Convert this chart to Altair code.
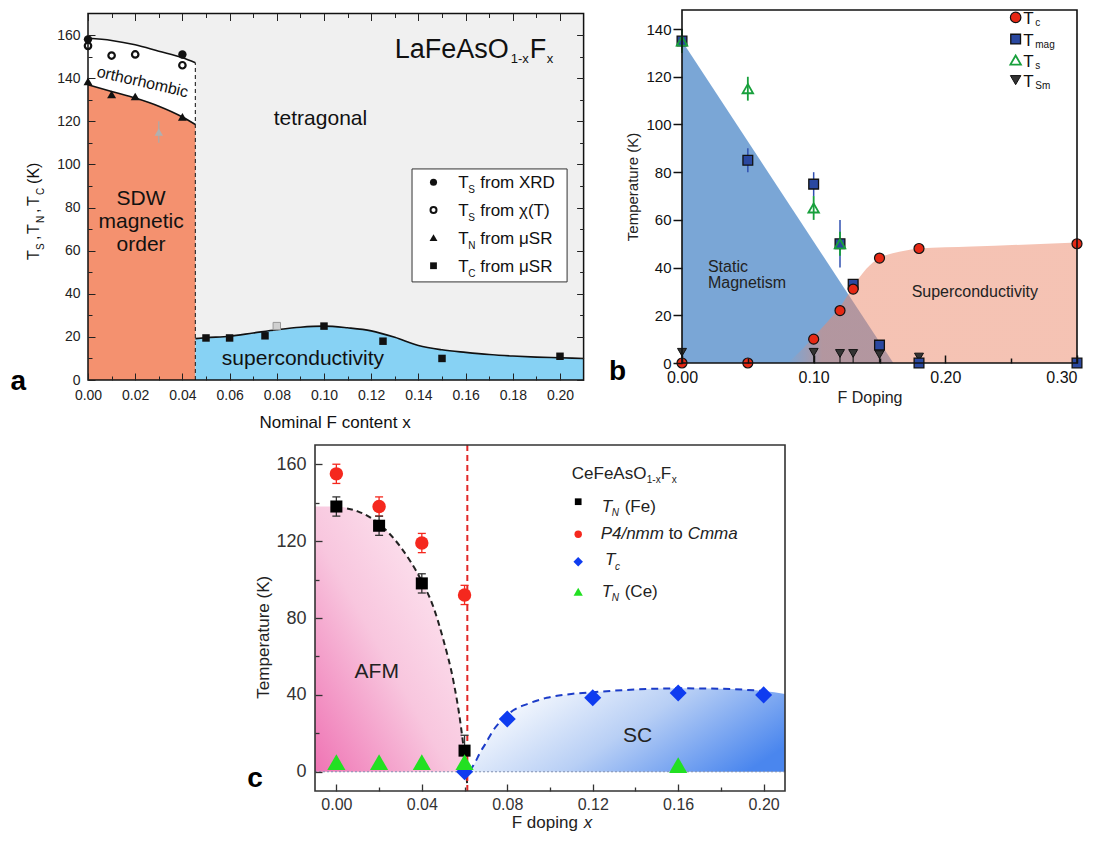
import altair as alt
import pandas as pd

FONT = "Liberation Sans"
W, H = 1082, 827

# ---------------- panel a : LaFeAsO1-xFx ----------------
a_xrd_x = [0.0, 0.04]
a_xrd_y = [158.0, 151.0]
a_chi_x = [0.0, 0.01, 0.02, 0.04]
a_chi_y = [155.0, 150.5, 151.0, 146.0]
a_tn_x = [0.0, 0.01, 0.02, 0.04]
a_tn_y = [138.5, 132.5, 131.5, 122.0]
a_tc_x = [0.05, 0.06, 0.075, 0.10, 0.125, 0.15, 0.20]
a_tc_y = [19.5, 19.5, 20.5, 25.0, 18.0, 10.0, 11.0]
a_gray_tn_x, a_gray_tn_y, a_gray_tn_err = [0.03], [115.0], [5.0]
a_gray_tc_x, a_gray_tc_y = [0.08], [25.0]
a_bound_x = [0.0, 0.01, 0.02, 0.03, 0.04, 0.0455]
a_ts_line = [158.5, 157.5, 155.5, 152.5, 149.5, 147.2]
a_tn_line = [137.0, 133.8, 130.8, 127.0, 122.0, 118.5]
a_sc_x = [0.0455, 0.05, 0.06, 0.07, 0.08, 0.09, 0.10, 0.11, 0.12, 0.13, 0.14,
          0.15, 0.16, 0.17, 0.18, 0.19, 0.20, 0.21]
a_sc_y = [19.2, 19.6, 20.3, 21.8, 23.3, 24.5, 25.0, 24.2, 22.8, 19.8, 16.0,
          14.0, 12.8, 11.8, 11.1, 10.6, 10.3, 10.0]
a_xticks = [0.0, 0.02, 0.04, 0.06, 0.08, 0.10, 0.12, 0.14, 0.16, 0.18, 0.20]
a_xminor = [0.01, 0.03, 0.05, 0.07, 0.09, 0.11, 0.13, 0.15, 0.17, 0.19]
a_yticks = [0, 20, 40, 60, 80, 100, 120, 140, 160]
a_yminor = [10, 30, 50, 70, 90, 110, 130, 150]

# ---------------- panel b ----------------
b_tc_x = [0.0, 0.05, 0.10, 0.12, 0.13, 0.15, 0.18, 0.30]
b_tc_y = [0.0, 0.0, 10.0, 22.0, 31.0, 44.0, 48.0, 50.0]
b_tmag_x = [0.0, 0.05, 0.10, 0.12, 0.13, 0.15, 0.18, 0.30]
b_tmag_y = [135.0, 85.0, 75.0, 50.0, 33.0, 7.5, 0.0, 0.0]
b_tmag_err = [0.0, 5.0, 5.0, 10.0, 0.0, 0.0, 0.0, 0.0]
b_ts_x = [0.0, 0.05, 0.10, 0.12]
b_ts_y = [135.0, 115.0, 65.0, 50.0]
b_ts_err = [5.0, 5.0, 5.0, 5.0]
b_tsm_x = [0.0, 0.10, 0.12, 0.13, 0.15, 0.18]
b_tsm_y = [4.5, 4.5, 4.0, 4.0, 3.5, 2.5]
b_mag_x = [0.0, 0.1605]
b_mag_y = [135.0, 0.0]
b_sc_x = [0.08, 0.09, 0.10, 0.11, 0.12, 0.13, 0.14, 0.15, 0.16, 0.17, 0.18, 0.22, 0.30]
b_sc_y = [0.0, 5.0, 11.0, 17.0, 23.5, 32.0, 39.5, 44.0, 46.0, 47.2, 48.0, 48.8, 50.5]
b_xticks = [0.0, 0.10, 0.20, 0.30]
b_xminor = [0.05, 0.15, 0.25]
b_yticks = [0, 20, 40, 60, 80, 100, 120, 140]

# ---------------- panel c : CeFeAsO1-xFx ----------------
c_tn_x = [0.0, 0.02, 0.04, 0.06]
c_tn_y = [138.0, 128.0, 98.0, 11.0]
c_tn_err = [5.0, 5.0, 5.0, 8.0]
c_pt_x = [0.0, 0.02, 0.04, 0.06]
c_pt_y = [155.0, 138.0, 119.0, 92.0]
c_pt_err = [5.0, 5.0, 5.0, 5.0]
c_tc_x = [0.06, 0.08, 0.12, 0.16, 0.20]
c_tc_y = [0.0, 27.5, 38.5, 41.0, 40.0]
c_tnce_x = [0.0, 0.02, 0.04, 0.06, 0.16]
c_tnce_y = [5.0, 5.0, 5.0, 5.0, 3.5]
c_afm_x = [0.005, 0.01, 0.02, 0.03, 0.04, 0.045, 0.05, 0.055, 0.058, 0.06, 0.0612]
c_afm_y = [137.0, 135.5, 129.0, 117.0, 99.0, 87.0, 69.0, 46.0, 26.0, 8.0, -6.0]
c_afm_fill_x = [-0.01, 0.0, 0.01, 0.02, 0.03, 0.04, 0.045, 0.05, 0.055, 0.058, 0.0605]
c_afm_fill_y = [138.0, 138.0, 135.5, 129.0, 117.0, 99.0, 87.0, 69.0, 46.0, 26.0, 0.0]
c_sc_x = [0.0625, 0.065, 0.0672, 0.07, 0.0735, 0.078, 0.0828, 0.09, 0.0985, 0.11,
          0.12, 0.14, 0.16, 0.18, 0.20, 0.21]
c_sc_y = [0.5, 5.0, 9.8, 15.0, 21.7, 27.5, 32.0, 35.5, 38.5, 40.5,
          41.4, 42.8, 43.4, 43.2, 42.0, 40.5]
c_boundary_x = 0.0613
c_xticks = [0.0, 0.04, 0.08, 0.12, 0.16, 0.20]
c_xminor = [0.02, 0.06, 0.10, 0.14, 0.18]
c_yticks = [0, 40, 80, 120, 160]
c_yminor = [20, 60, 100, 140]

# ---------------- scales: (x domain, x pixel range, y domain, y pixel range) ----------------
SA = ([0.0, 0.21], [80, 575.6], [0, 170], [372, 5.5])
SB = ([0.0, 0.30], [674, 1069], [0, 148], [355, 2])
SC = ([-0.01, 0.21], [307, 777], [-10, 170], [783, 437])


def scl(dom, rng):
    return alt.Scale(domain=dom, range=rng, nice=False, zero=False)


def XY(S, xaxis=None, yaxis=None):
    return dict(x=alt.X('x:Q', scale=scl(S[0], S[1]), axis=xaxis),
                y=alt.Y('y:Q', scale=scl(S[2], S[3]), axis=yaxis))


layers = []


def add(c):
    layers.append(c)


def pts(S, xs, ys, shape, size, fill, stroke='', sw=1.0, filled=True):
    kw = dict(shape=shape, size=size, opacity=1)
    if filled:
        kw.update(filled=True, fill=fill)
        if stroke:
            kw.update(stroke=stroke, strokeWidth=sw)
        else:
            kw.update(strokeWidth=0)
    else:
        kw.update(filled=False, stroke=stroke, strokeWidth=sw, fill=fill)
    return alt.Chart(pd.DataFrame({'x': xs, 'y': ys})).mark_point(**kw).encode(**XY(S))


def line(S, xs, ys, color, width=1.5, dash=(), interp='monotone'):
    kw = dict(color=color, strokeWidth=width, interpolate=interp)
    if dash:
        kw['strokeDash'] = list(dash)
    return alt.Chart(pd.DataFrame({'x': xs, 'y': ys})).mark_line(**kw).encode(**XY(S))


def area(S, xs, ys, y2s, color, opacity=1.0, interp='monotone'):
    enc = XY(S)
    enc['y2'] = alt.Y2('y2:Q')
    return alt.Chart(pd.DataFrame({'x': xs, 'y': ys, 'y2': y2s})).mark_area(
        color=color, opacity=opacity, interpolate=interp).encode(**enc)


def vrules(S, xs, y1, y2, color, width=1.3, dash=()):
    enc = XY(S)
    enc['y2'] = alt.Y2('y2:Q')
    kw = dict(color=color, strokeWidth=width)
    if dash:
        kw['strokeDash'] = list(dash)
    return alt.Chart(pd.DataFrame({'x': xs, 'y': y1, 'y2': y2})).mark_rule(**kw).encode(**enc)


def hrules(S, x1, x2, ys, color, width=1.3, dash=()):
    enc = XY(S)
    enc['x2'] = alt.X2('x2:Q')
    kw = dict(color=color, strokeWidth=width)
    if dash:
        kw['strokeDash'] = list(dash)
    return alt.Chart(pd.DataFrame({'x': x1, 'x2': x2, 'y': ys})).mark_rule(**kw).encode(**enc)


def caps(S, xs, ys, color, size=8, width=1.3):
    return alt.Chart(pd.DataFrame({'x': xs, 'y': ys})).mark_tick(
        orient='horizontal', size=size, thickness=width, color=color, opacity=1).encode(**XY(S))


def box(S, x1, x2, y1, y2, fill='transparent', stroke='', sw=1.5):
    enc = XY(S)
    enc['x2'] = alt.X2('x2:Q')
    enc['y2'] = alt.Y2('y2:Q')
    kw = dict(fill=fill)
    if stroke:
        kw.update(stroke=stroke, strokeWidth=sw)
    else:
        kw.update(strokeWidth=0)
    return alt.Chart(pd.DataFrame({'x': [x1], 'x2': [x2], 'y': [y1], 'y2': [y2]})).mark_rect(**kw).encode(**enc)


def frame(S, fill='transparent', stroke='', sw=1.5):
    return box(S, S[0][0], S[0][1], S[2][0], S[2][1], fill, stroke, sw)


def text(S, x, y, t, size, dx=0, dy=0, align='left', baseline='alphabetic', color='#111',
         angle=0, style='normal', weight='normal'):
    kw = dict(fontSize=size, dx=dx, dy=dy, align=align, baseline=baseline, color=color,
              font=FONT, fontStyle=style, fontWeight=weight)
    if angle:
        kw['angle'] = angle
    return alt.Chart(pd.DataFrame({'x': [x], 'y': [y], 't': [t]})).mark_text(**kw).encode(
        text='t:N', **XY(S))


def axis_layer(S, ch, **kw):
    base = dict(grid=False, title=None, domain=False, labelFlush=False, labelOverlap=False, zindex=1)
    base.update(kw)
    a = alt.Axis(**base)
    d = pd.DataFrame({'x': [S[0][0]], 'y': [S[2][0]]})
    enc = XY(S, xaxis=a) if ch == 'x' else XY(S, yaxis=a)
    return alt.Chart(d).mark_point(opacity=0).encode(**enc)


def tick_axis(S, ch, orient, offset, values, size, color='#222', width=1.0):
    return axis_layer(S, ch, orient=orient, offset=offset, values=values, labels=False,
                      ticks=True, tickSize=size, tickColor=color, tickWidth=width)


def label_axis(S, ch, orient, offset, values, fmt, fs, pad, color='#222',
               ticks=False, tsize=0, tcolor='#222', twidth=1.0, **extra):
    return axis_layer(S, ch, orient=orient, offset=offset, values=values, format=fmt,
                      labels=True, ticks=ticks, tickSize=tsize, tickColor=tcolor,
                      tickWidth=twidth, labelFont=FONT, labelFontSize=fs,
                      labelPadding=pad, labelColor=color, **extra)


# ======================= PANEL A =======================
S = SA
xl, xr = S[1]
yb, yt = S[3]
add(frame(S, fill='#f0f0f0'))
add(area(S, a_bound_x, a_tn_line, [0] * len(a_bound_x), '#f4916f'))
add(area(S, a_bound_x, a_ts_line, a_tn_line, '#ffffff'))
add(area(S, a_sc_x, a_sc_y, [0] * len(a_sc_x), '#87d2f4'))
add(line(S, a_bound_x, a_ts_line, '#111', 1.6))
add(line(S, a_bound_x, a_tn_line, '#111', 1.6))
add(line(S, a_sc_x, a_sc_y, '#111', 1.6))
add(vrules(S, [a_bound_x[-1]], [0], [a_ts_line[-1]], '#333', 1.2, (4, 3)))
add(vrules(S, a_gray_tn_x, [a_gray_tn_y[0] - a_gray_tn_err[0]], [a_gray_tn_y[0] + a_gray_tn_err[0]], '#aaaaaa', 1.2))
add(pts(S, a_gray_tn_x, a_gray_tn_y, 'triangle-up', 70, '#b0b0b0'))
add(pts(S, a_gray_tc_x, a_gray_tc_y, 'square', 55, '#d0d0d0', '#999999', 1))
add(pts(S, a_chi_x, a_chi_y, 'circle', 42, '#ffffff', '#111', 2.2, filled=False))
add(pts(S, a_xrd_x, a_xrd_y, 'circle', 70, '#111'))
add(pts(S, a_tn_x, a_tn_y, 'triangle-up', 80, '#111'))
add(pts(S, a_tc_x, a_tc_y, 'square', 56, '#111'))
# region labels
add(text(S, 0.0231, 138.2, 'orthorhombic', 16, align='center', baseline='middle', angle=13))
add(text(S, 0.0985, 118.3, 'tetragonal', 21, align='center'))
add(text(S, 0.0225, 81.2, 'SDW', 21, align='center'))
add(text(S, 0.0225, 70.5, 'magnetic', 21, align='center'))
add(text(S, 0.0225, 60.0, 'order', 21, align='center'))
add(text(S, 0.0911, 7.0, 'superconductivity', 21, align='center'))
# compound name
add(text(S, 0.130, 149.4, 'LaFeAsO', 27))
add(text(S, 0.130, 149.4, '1-x', 13, dx=116, dy=5))
add(text(S, 0.130, 149.4, 'F', 27, dx=135))
add(text(S, 0.130, 149.4, 'x', 13, dx=152, dy=5))
# legend
add(box(S, 0.1373, 0.2030, 45.5, 97.9, fill='#ffffff', stroke='#333', sw=1))
leg_y = [91.7, 78.8, 66.0, 53.0]
add(pts(S, [0.1464], [leg_y[0]], 'circle', 50, '#111'))
add(pts(S, [0.1464], [leg_y[1]], 'circle', 36, '#ffffff', '#111', 2.0, filled=False))
add(pts(S, [0.1464], [leg_y[2]], 'triangle-up', 62, '#111'))
add(pts(S, [0.1464], [leg_y[3]], 'square', 46, '#111'))
for yy, sub, rest in zip(leg_y, ['S', 'S', 'N', 'C'],
                         ['from XRD', 'from \u03c7(T)', 'from \u03bcSR', 'from \u03bcSR']):
    add(text(S, 0.1569, yy, 'T', 17, dy=6))
    add(text(S, 0.1569, yy, sub, 10, dx=10, dy=11))
    add(text(S, 0.1569, yy, rest, 17, dx=22, dy=6))
# axis titles
add(text(S, 0.1047, -22.3, 'Nominal F content x', 17, align='center'))
yt_pieces = [('T', 0, 0, 16), ('S', 10, 5, 10), (',', 20, 0, 16), ('T', 26, 0, 16),
             ('N', 37, 5, 10), (',', 47, 0, 16), ('T', 54, 0, 16), ('C', 65, 5, 10),
             ('(K)', 76, 0, 16)]
for t, dx, dy, fs in yt_pieces:
    add(text(S, -0.0208, 55.7, t, fs, dx=dx, dy=dy, angle=270))
add(text(S, -0.0295, -4.6, 'a', 28, align='center', weight='bold', color='#000'))
add(frame(S, stroke='#111', sw=1.5))
# axes
add(label_axis(S, 'x', 'bottom', yb - H, a_xticks, '.2f', 14, 8))
add(tick_axis(S, 'x', 'top', -yb, a_xticks, 7))
add(tick_axis(S, 'x', 'top', -yb, a_xminor, 4))
add(tick_axis(S, 'x', 'bottom', yt - H, a_xticks, 7))
add(tick_axis(S, 'x', 'bottom', yt - H, a_xminor, 4))
add(label_axis(S, 'y', 'left', -xl, a_yticks, 'd', 14, 8))
add(tick_axis(S, 'y', 'right', xl - W, a_yticks, 7))
add(tick_axis(S, 'y', 'right', xl - W, a_yminor, 4))
add(tick_axis(S, 'y', 'left', -xr, a_yticks, 7))
add(tick_axis(S, 'y', 'left', -xr, a_yminor, 4))

# ======================= PANEL B =======================
S = SB
xl, xr = S[1]
yb, yt = S[3]
add(frame(S, fill='#ffffff'))
add(area(S, b_mag_x, b_mag_y, [0, 0], '#7aa6d6', interp='linear'))
sc_grad = alt.LinearGradient(
    gradient='linear', x1=0, x2=1, y1=0, y2=0,
    stops=[alt.GradientStop(color='rgba(235,135,105,0)', offset=0),
           alt.GradientStop(color='rgba(235,135,105,0.5)', offset=0.12),
           alt.GradientStop(color='rgba(235,135,105,0.5)', offset=1)])
add(area(S, b_sc_x, b_sc_y, [0] * len(b_sc_x), sc_grad))
# error bars
tm_lo = [y - e for y, e in zip(b_tmag_y, b_tmag_err)]
tm_hi = [y + e for y, e in zip(b_tmag_y, b_tmag_err)]
add(vrules(S, b_tmag_x, tm_lo, tm_hi, '#3050b0', 1.5))
ts_lo = [y - e for y, e in zip(b_ts_y, b_ts_err)]
ts_hi = [y + e for y, e in zip(b_ts_y, b_ts_err)]
add(vrules(S, b_ts_x, ts_lo, ts_hi, '#18a03c', 1.8))
add(vrules(S, b_tsm_x, [0] * len(b_tsm_x), b_tsm_y, '#222', 1.2))
add(pts(S, b_tsm_x, b_tsm_y, 'triangle-down', 80, '#333333', '#111', 1))
add(pts(S, b_tmag_x, b_tmag_y, 'square', 95, '#2a48a0', '#111', 1.3))
add(pts(S, b_ts_x, b_ts_y, 'triangle-up', 110, 'transparent', '#18a03c', 1.8, filled=False))
add(pts(S, b_tc_x, b_tc_y, 'circle', 100, '#e62814', '#111', 1.2))
add(text(S, 0.0197, 38.3, 'Static', 16, color='#222'))
add(text(S, 0.0197, 31.3, 'Magnetism', 16, color='#222'))
add(text(S, 0.1744, 27.8, 'Superconductivity', 16, color='#222'))
# legend
bl_y = [144.9, 135.8, 127.0, 118.6]
add(pts(S, [0.2534], [bl_y[0]], 'circle', 110, '#e62814', '#111', 1.2))
add(pts(S, [0.2534], [bl_y[1]], 'square', 95, '#2a48a0', '#111', 1.3))
add(pts(S, [0.2534], [bl_y[2]], 'triangle-up', 110, 'transparent', '#18a03c', 1.8, filled=False))
add(pts(S, [0.2534], [bl_y[3]], 'triangle-down', 110, '#333333', '#111', 1))
for yy, sub in zip(bl_y, ['c', 'mag', 's', 'Sm']):
    add(text(S, 0.2592, yy, 'T', 17, dy=7))
    add(text(S, 0.2592, yy, sub, 10, dx=12, dy=9))
add(text(S, 0.1428, -16.8, 'F Doping', 16, align='center', color='#222'))
add(text(S, -0.0372, 73.8, 'Temperature (K)', 15, align='center', baseline='middle',
         angle=270, color='#222'))
add(text(S, -0.049, -7.1, 'b', 28, align='center', weight='bold', color='#000'))
add(frame(S, stroke='#111', sw=1.6))
add(label_axis(S, 'x', 'bottom', yb - H, b_xticks[:-1], '.2f', 16, 6, color='#111'))
add(label_axis(S, 'x', 'bottom', yb - H, b_xticks[-1:], '.2f', 16, 6, color='#111',
               labelFlush=11))
add(tick_axis(S, 'x', 'top', -yb, b_xticks, 8, color='#111', width=1.5))
add(tick_axis(S, 'x', 'top', -yb, b_xminor, 5, color='#111', width=1.5))
add(label_axis(S, 'y', 'left', -xl, b_yticks, 'd', 15, 2, color='#111',
               ticks=True, tsize=9, tcolor='#111', twidth=1.5))

# ======================= PANEL C =======================
S = SC
xl, xr = S[1]
yb, yt = S[3]
afm_grad = alt.LinearGradient(
    gradient='linear', x1=0, x2=1, y1=1, y2=0,
    stops=[alt.GradientStop(color='#ef74b4', offset=0),
           alt.GradientStop(color='#f8c6de', offset=0.45),
           alt.GradientStop(color='#fff3f8', offset=1)])
add(area(S, c_afm_fill_x, c_afm_fill_y, [0] * len(c_afm_fill_x), afm_grad))
scc_grad = alt.LinearGradient(
    gradient='linear', x1=0, x2=1, y1=0.3, y2=0.7,
    stops=[alt.GradientStop(color='#ffffff', offset=0),
           alt.GradientStop(color='#b8cff5', offset=0.5),
           alt.GradientStop(color='#4a86ee', offset=1)])
add(area(S, c_sc_x, c_sc_y, [0] * len(c_sc_x), scc_grad))
add(hrules(S, [S[0][0]], [S[0][1]], [0], '#8090b0', 1, (2, 2)))
add(line(S, c_afm_x, c_afm_y, '#222', 2, (6, 4)))
add(line(S, c_sc_x[:-1], c_sc_y[:-1], '#1c3cc8', 2, (7, 5)))
add(vrules(S, [c_boundary_x], [S[2][0]], [S[2][1]], '#e02828', 2, (6, 4)))
# error bars
tn_lo = [y - e for y, e in zip(c_tn_y, c_tn_err)]
tn_hi = [y + e for y, e in zip(c_tn_y, c_tn_err)]
pt_lo = [y - e for y, e in zip(c_pt_y, c_pt_err)]
pt_hi = [y + e for y, e in zip(c_pt_y, c_pt_err)]
add(vrules(S, c_pt_x, pt_lo, pt_hi, '#f5281e', 1.3))
add(caps(S, c_pt_x, pt_lo, '#f5281e'))
add(caps(S, c_pt_x, pt_hi, '#f5281e'))
add(vrules(S, c_tn_x, tn_lo, tn_hi, '#333', 1.3))
add(caps(S, c_tn_x, tn_lo, '#333'))
add(caps(S, c_tn_x, tn_hi, '#333'))
add(pts(S, c_pt_x, c_pt_y, 'circle', 180, '#f5281e'))
add(pts(S, c_tn_x, c_tn_y, 'square', 145, '#000000'))
add(pts(S, c_tc_x, c_tc_y, 'diamond', 290, '#0f3cf0'))
add(pts(S, c_tnce_x, c_tnce_y, 'triangle-up', 330, '#22e022'))
add(text(S, 0.0189, 48.6, 'AFM', 21, align='center', color='#222'))
add(text(S, 0.141, 15.6, 'SC', 21, align='center', color='#222'))
# legend
add(text(S, 0.1102, 152.2, 'CeFeAsO', 17, color='#222'))
add(text(S, 0.1102, 152.2, '1-x', 10, dx=75, dy=4, color='#222'))
add(text(S, 0.1102, 152.2, 'F', 17, dx=89, color='#222'))
add(text(S, 0.1102, 152.2, 'x', 10, dx=100, dy=4, color='#222'))
cl_sym_y = [140.5, 123.6, 109.3, 93.7]
cl_txt_y = [135.3, 121.0, 107.6, 91.1]
add(pts(S, [0.1132], [cl_sym_y[0]], 'square', 45, '#000000'))
add(pts(S, [0.1132], [cl_sym_y[1]], 'circle', 55, '#f5281e'))
add(pts(S, [0.1132], [cl_sym_y[2]], 'diamond', 90, '#0f3cf0'))
add(pts(S, [0.1132], [cl_sym_y[3]], 'triangle-up', 85, '#22e022'))
add(text(S, 0.1242, cl_txt_y[0], 'T', 17, style='italic', color='#222'))
add(text(S, 0.1242, cl_txt_y[0], 'N', 10, dx=10, dy=4, style='italic', color='#222'))
add(text(S, 0.1242, cl_txt_y[0], '(Fe)', 17, dx=23, color='#222'))
add(text(S, 0.1237, cl_txt_y[1], 'P4/nmm', 17, style='italic', color='#222'))
add(text(S, 0.1237, cl_txt_y[1], 'to', 17, dx=68, color='#222'))
add(text(S, 0.1237, cl_txt_y[1], 'Cmma', 17, dx=87, style='italic', color='#222'))
add(text(S, 0.1257, cl_txt_y[2], 'T', 17, style='italic', color='#222'))
add(text(S, 0.1257, cl_txt_y[2], 'c', 10, dx=10, dy=5, style='italic', color='#222'))
add(text(S, 0.1242, cl_txt_y[3], 'T', 17, style='italic', color='#222'))
add(text(S, 0.1242, cl_txt_y[3], 'N', 10, dx=10, dy=4, style='italic', color='#222'))
add(text(S, 0.1242, cl_txt_y[3], '(Ce)', 17, dx=23, color='#222'))
# axis titles
add(text(S, 0.0821, -29.4, 'F doping', 17, color='#222'))
add(text(S, 0.0821, -29.4, 'x', 17, dx=72, style='italic', color='#222'))
add(text(S, -0.0339, 70.0, 'Temperature (K)', 17, align='center', baseline='middle',
         angle=270, color='#222'))
add(text(S, -0.0381, -7.9, 'c', 28, align='center', weight='bold', color='#000'))
add(frame(S, stroke='#333', sw=1.6))
add(label_axis(S, 'x', 'bottom', yb - H, c_xticks, '.2f', 16, 5, color='#333'))
add(tick_axis(S, 'x', 'top', -yb, c_xticks, 7, color='#333', width=1.3))
add(tick_axis(S, 'x', 'top', -yb, c_xminor, 4, color='#333', width=1.3))
add(label_axis(S, 'y', 'left', -xl, c_yticks, 'd', 18, 9, color='#333'))
add(tick_axis(S, 'y', 'right', xl - W, c_yticks, 7, color='#333', width=1.3))
add(tick_axis(S, 'y', 'right', xl - W, c_yminor, 4, color='#333', width=1.3))

chart = alt.layer(*layers).resolve_scale(x='independent', y='independent').properties(
    width=W, height=H, autosize=alt.AutoSizeParams(type='none'), padding=0
).configure_view(stroke=None).configure_axis(grid=False)

chart.save("out.html", embed_options={"renderer": "svg", "actions": False})
